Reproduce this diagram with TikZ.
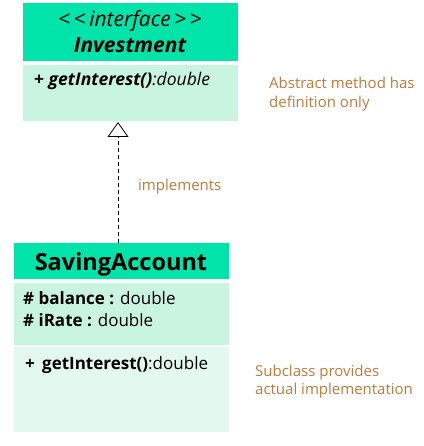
\documentclass[tikz,border=0pt]{standalone}
\usepackage{fontspec}
\setmainfont{Open Sans}
\usetikzlibrary{arrows.meta}
\definecolor{headgreen}{RGB}{0,227,169}
\definecolor{bodygreen}{RGB}{201,244,224}
\definecolor{paleagreen}{RGB}{227,248,239}
\definecolor{notebrown}{RGB}{192,122,58}
\newcommand{\fsz}[1]{\fontsize{#1}{#1}\selectfont}
\begin{document}
\begin{tikzpicture}
                [x=1pt,y=-1pt,
                box/.style={rectangle,draw=none,inner sep=0pt,anchor=north west},
                txt/.style={inner sep=0pt,anchor=base west},
                note/.style={txt,text=notebrown,font=\fsz{15}},
                realizes/.style={dashed,dash pattern=on 4pt off 3pt,line width=0.8pt,
                  -{Triangle[open,fill=white,length=15pt,width=21pt]}},
                ]
                \useasboundingbox (0,0) rectangle (423,446);
                % interface
                \node[box,fill=headgreen,minimum width=215pt,minimum height=58pt] (inthead) at (23,3){};
                \node[box,fill=bodygreen,minimum width=215pt,minimum height=56pt] (intbody) at (23,65){};
                \node[inner sep=0pt,anchor=base,font=\fsz{21}\itshape] (stereo) at (130,27){<\,<\,interface\,>\,>};
                \node[inner sep=0pt,anchor=base,font=\fsz{21}\bfseries\itshape] (intname) at (130,53){Investment};
                \node[txt,font=\fsz{17.5}] (intop) at (34,86){\textbf{+ \textit{getInterest()}}\textit{:double}};
                % class
                \node[box,fill=headgreen,minimum width=215pt,minimum height=36pt] (savhead) at (14,243){};
                \node[box,fill=bodygreen,minimum width=215pt,minimum height=62pt] (savattr) at (14,283){};
                \node[box,fill=paleagreen,minimum width=215pt,minimum height=85pt] (savmeth) at (14,347){};
                \node[inner sep=0pt,anchor=base,font=\fsz{23.5}\bfseries] (savname) at (121,270){SavingAccount};
                \node[txt,font=\fsz{17}] (bal) at (23,304){\textbf{\# balance :} double};
                \node[txt,font=\fsz{17}] (rate) at (23,326){\textbf{\# iRate :} double};
                \node[txt,font=\fsz{17}] (savop) at (25,369){\textbf{+\, getInterest()}:double};
                % notes
                \node[note] (abs1) at (269,89){Abstract method has};
                \node[note] (abs2) at (269,108){definition only};
                \node[note] (sub1) at (255,376){Subclass provides};
                \node[note] (sub2) at (255,394){actual implementation};
                \node[note] (impl) at (138,190){implements};
                \coordinate (tip) at (118,122);
                \draw[realizes] (savhead.north -| tip) -- (tip);
            \end{tikzpicture}
\end{document}
